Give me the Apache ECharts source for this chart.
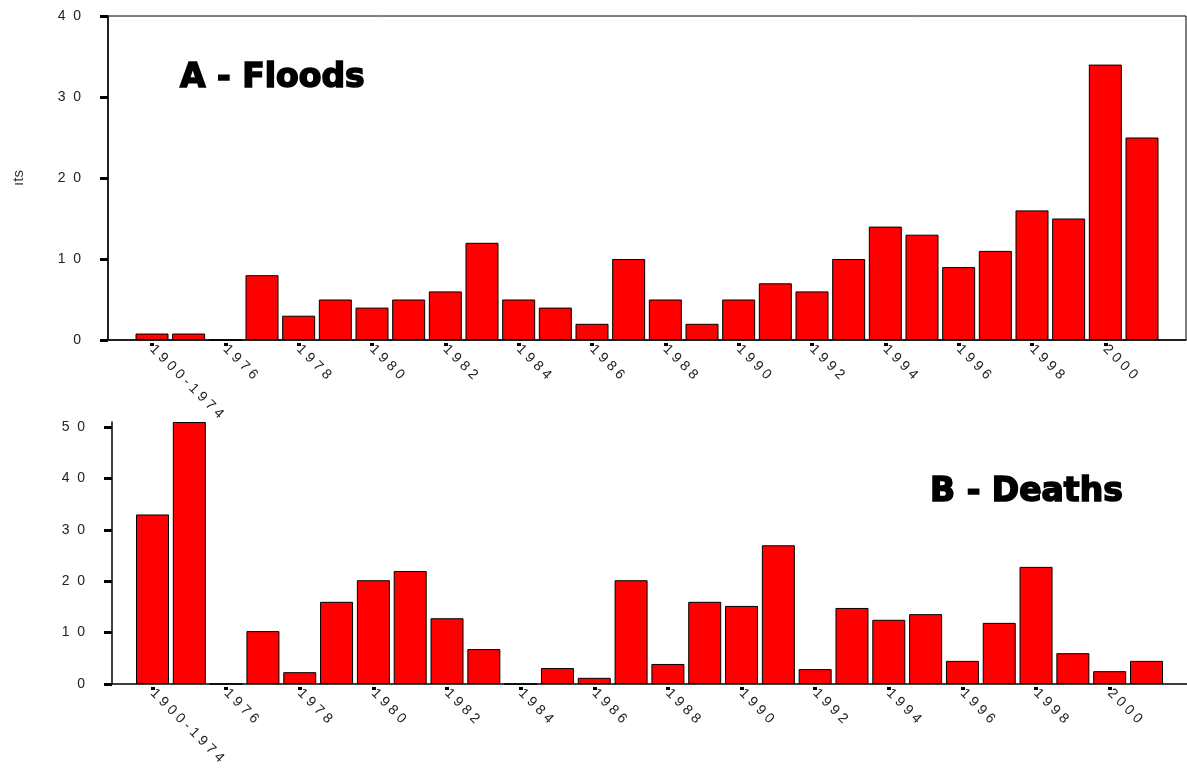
<!DOCTYPE html>
<html>
<head>
<meta charset="utf-8">
<script src="https://cdn.jsdelivr.net/npm/echarts@6/dist/echarts.min.js"></script>
<style>
html,body{margin:0;padding:0;background:#fff;}
#chart{width:1187px;height:769px;}
</style>
</head>
<body>
<div id="chart"></div>
<script>
const categories = ['1900-1974','1975','1976','1977','1978','1979','1980','1981','1982','1983','1984','1985','1986','1987','1988','1989','1990','1991','1992','1993','1994','1995','1996','1997','1998','1999','2000','2001'];
const floods = [0.8, 0.8, 0, 8, 3, 5, 4, 5, 6, 12, 5, 4, 2, 10, 5, 2, 5, 7, 6, 10, 14, 13, 9, 11, 16, 15, 34, 25];
const deaths = [33, 51, 0, 10.3, 2.3, 16, 20.2, 22, 12.8, 6.8, 0, 3.1, 1.2, 20.2, 3.9, 16, 15.2, 27, 2.9, 14.8, 12.5, 13.6, 4.5, 11.9, 22.8, 6.0, 2.5, 4.5];
const labelIdx = [0, 2, 4, 6, 8, 10, 12, 14, 16, 18, 20, 22, 24, 26];
const floodTicks = [0, 10, 20, 30, 40];
const deathTicks = [0, 10, 20, 30, 40, 50];
const panelTitles = ['A - Floods', 'B - Deaths'];
const yName = 'ıts';

function catLabel(v) {
  const c = categories[Math.round(v)];
  if (!c) return '';
  if (c.indexOf('-') >= 0) {
    const parts = c.split('-');
    return parts[0].split('').join(' ') + ' - ' + parts[1].split('').join(' ');
  }
  return c.split('').join(' ');
}
function numLabel(v) { return String(v).split('').join('  '); }

const labelFont = { fontFamily: 'Liberation Sans', fontSize: 14, color: '#222' };
const titleStyle = { fontFamily: 'DejaVu Sans', fontWeight: 'bold', fontSize: 32, color: '#000',
  textBorderColor: '#000', textBorderWidth: 1.6 };

function lineAxis(gridIndex, min, max) {
  return {
    type: 'value', gridIndex, min, max, position: 'bottom',
    axisLine: { show: true, onZero: false, lineStyle: { color: '#000', width: 1.5 } },
    axisTick: { show: false }, axisLabel: { show: false }, splitLine: { show: false }
  };
}
function labelAxis(gridIndex, min, max) {
  return {
    type: 'value', gridIndex, min, max, position: 'bottom', offset: 3,
    axisLine: { show: false, onZero: false },
    axisTick: { show: true, customValues: labelIdx, length: 3, lineStyle: { color: '#000', width: 4 } },
    axisLabel: Object.assign({ show: true, customValues: labelIdx, rotate: -45, margin: 4, formatter: catLabel }, labelFont),
    splitLine: { show: false }
  };
}
function yAxis(gridIndex, max, ticks, extra) {
  return Object.assign({
    type: 'value', gridIndex, min: 0, max,
    axisLine: { show: true, onZero: false, lineStyle: { color: '#000', width: 1.5 } },
    axisTick: { show: true, customValues: ticks, length: 8, lineStyle: { color: '#000', width: 3 } },
    axisLabel: Object.assign({ customValues: ticks, margin: 27, formatter: numLabel }, labelFont),
    splitLine: { show: false }
  }, extra || {});
}

const chart = echarts.init(document.getElementById('chart'), null, { renderer: 'canvas' });
chart.setOption({
  animation: false,
  backgroundColor: '#fff',
  title: [
    { text: panelTitles[0], left: 180, top: 62, padding: 0, textStyle: Object.assign({}, titleStyle, { fontSize: 33 }) },
    { text: panelTitles[1], left: 930, top: 476, padding: 0, textStyle: Object.assign({}, titleStyle, { fontSize: 33 }) }
  ],
  grid: [
    { left: 108, top: 16, width: 1078, height: 324, show: true, borderColor: '#000', borderWidth: 1, backgroundColor: 'transparent' },
    { left: 112, top: 422, width: 1077, height: 262 }
  ],
  xAxis: [
    lineAxis(0, -1.2, 28.2),
    labelAxis(0, -1.2, 28.2),
    lineAxis(1, -1.1, 28.1),
    labelAxis(1, -1.1, 28.1)
  ],
  yAxis: [
    yAxis(0, 40, floodTicks, { name: yName, nameLocation: 'middle', nameGap: 82, nameRotate: 90,
      nameTextStyle: { fontFamily: 'Liberation Sans', fontSize: 15, color: '#333' } }),
    yAxis(1, 51, deathTicks)
  ],
  series: [
    { type: 'bar', xAxisIndex: 0, yAxisIndex: 0, barWidth: 33,
      data: floods.map((v, i) => [i, v]),
      itemStyle: { color: '#ff0000', borderColor: '#000', borderWidth: 1 } },
    { type: 'bar', xAxisIndex: 2, yAxisIndex: 1, barWidth: 33,
      data: deaths.map((v, i) => [i, v]),
      itemStyle: { color: '#ff0000', borderColor: '#000', borderWidth: 1 } }
  ]
});
</script>
</body>
</html>
